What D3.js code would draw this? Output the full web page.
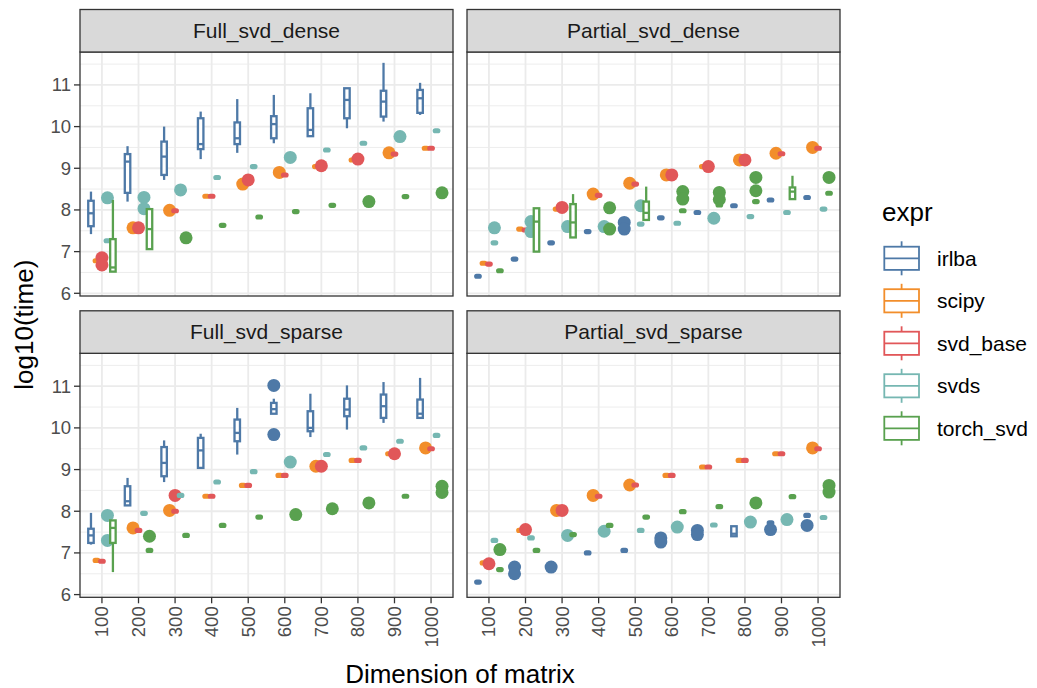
<!DOCTYPE html>
<html>
<head>
<meta charset="utf-8">
<script src="https://cdn.jsdelivr.net/npm/d3@7"></script>
<style>
	body { margin: 0; background: #fff; }
	text { font-family: 'Liberation Sans', Arial, sans-serif; }
</style>
</head>
<body>
<svg id="chart" width="1037" height="688"></svg>
<script>
'use strict';

var dims = ['100', '200', '300', '400', '500', '600', '700', '800', '900', '1000'];
var exprs = ['irlba', 'scipy', 'svd_base', 'svds', 'torch_svd'];
var colors = ['#4E79A7', '#F28E2B', '#E15759', '#76B7B2', '#59A14F'];
var panelNames = ['Full_svd_dense', 'Partial_svd_dense', 'Full_svd_sparse', 'Partial_svd_sparse'];
var yTicks = [6, 7, 8, 9, 10, 11];
var yMinor = [6.5, 7.5, 8.5, 9.5, 10.5, 11.5];

// boxes: [dim, expr, lower whisker, q1, median, q3, upper whisker]
// flat: [dim, expr, value]   (box collapsed to one value)
// outliers: [dim, expr, value]
var fullDenseBoxes = [
	['100', 'irlba', 7.42, 7.61, 7.92, 8.22, 8.44],
	['100', 'torch_svd', 6.52, 6.52, 6.62, 7.30, 8.24],
	['200', 'irlba', 8.20, 8.41, 9.16, 9.34, 9.53],
	['200', 'torch_svd', 7.06, 7.06, 7.54, 8.02, 8.02],
	['300', 'irlba', 8.72, 8.84, 9.28, 9.64, 10.0],
	['400', 'irlba', 9.22, 9.46, 9.58, 10.2, 10.36],
	['500', 'irlba', 9.37, 9.58, 9.72, 10.1, 10.66],
	['600', 'irlba', 9.6, 9.72, 10.06, 10.25, 10.76],
	['700', 'irlba', 9.77, 9.77, 9.92, 10.44, 10.8],
	['800', 'irlba', 9.96, 10.2, 10.64, 10.92, 10.92],
	['900', 'irlba', 10.12, 10.24, 10.6, 10.86, 11.53],
	['1000', 'irlba', 10.28, 10.33, 10.68, 10.88, 11.05]
];
var fullDenseFlat = [
	['100', 'scipy', 6.78], ['100', 'svds', 7.26], ['300', 'svd_base', 7.98],
	['400', 'scipy', 8.33], ['400', 'svd_base', 8.33], ['400', 'svds', 8.78], ['400', 'torch_svd', 7.63],
	['500', 'svds', 9.04], ['500', 'torch_svd', 7.83],
	['600', 'svd_base', 8.84], ['600', 'torch_svd', 7.96],
	['700', 'scipy', 9.04], ['700', 'svds', 9.44], ['700', 'torch_svd', 8.11],
	['800', 'scipy', 9.2], ['800', 'svds', 9.6],
	['900', 'svd_base', 9.34], ['900', 'torch_svd', 8.32],
	['1000', 'scipy', 9.48], ['1000', 'svd_base', 9.48], ['1000', 'svds', 9.9]
];
var fullDenseOutliers = [
	['100', 'svd_base', 6.85], ['100', 'svd_base', 6.68], ['100', 'svds', 8.29],
	['200', 'scipy', 7.57], ['200', 'svd_base', 7.57], ['200', 'svds', 8.30], ['200', 'svds', 8.03],
	['300', 'scipy', 7.99], ['300', 'svds', 8.48], ['300', 'torch_svd', 7.33],
	['500', 'scipy', 8.62], ['500', 'svd_base', 8.72],
	['600', 'scipy', 8.9], ['600', 'svds', 9.26],
	['700', 'svd_base', 9.06],
	['800', 'svd_base', 9.22], ['800', 'torch_svd', 8.2],
	['900', 'scipy', 9.37], ['900', 'svds', 9.76],
	['1000', 'torch_svd', 8.41]
];

var partialDenseBoxes = [
	['200', 'torch_svd', 7.0, 7.0, 7.72, 8.04, 8.04],
	['300', 'torch_svd', 7.34, 7.34, 7.7, 8.14, 8.38],
	['500', 'torch_svd', 7.76, 7.76, 7.93, 8.2, 8.56],
	['900', 'torch_svd', 8.26, 8.26, 8.44, 8.54, 8.82]
];
var partialDenseFlat = [
	['100', 'irlba', 6.41], ['100', 'scipy', 6.72], ['100', 'svd_base', 6.70], ['100', 'svds', 7.21], ['100', 'torch_svd', 6.54],
	['200', 'irlba', 6.82], ['200', 'scipy', 7.54], ['200', 'svd_base', 7.52],
	['300', 'irlba', 7.21], ['300', 'scipy', 8.02],
	['400', 'irlba', 7.48], ['400', 'svd_base', 8.35],
	['500', 'svd_base', 8.62], ['500', 'svds', 7.66],
	['600', 'irlba', 7.81], ['600', 'svds', 7.68], ['600', 'torch_svd', 7.98],
	['700', 'irlba', 7.94], ['700', 'scipy', 9.04], ['700', 'torch_svd', 8.12],
	['800', 'irlba', 8.1], ['800', 'svds', 7.84], ['800', 'torch_svd', 8.2],
	['900', 'irlba', 8.24], ['900', 'svd_base', 9.35], ['900', 'svds', 7.94],
	['1000', 'irlba', 8.3], ['1000', 'svd_base', 9.48], ['1000', 'svds', 8.02], ['1000', 'torch_svd', 8.4]
];
var partialDenseOutliers = [
	['100', 'svds', 7.57],
	['200', 'svds', 7.72], ['200', 'svds', 7.48],
	['300', 'svd_base', 8.06], ['300', 'svds', 7.6],
	['400', 'scipy', 8.38], ['400', 'svds', 7.6], ['400', 'torch_svd', 8.05], ['400', 'torch_svd', 7.54],
	['500', 'irlba', 7.70], ['500', 'irlba', 7.54], ['500', 'scipy', 8.64], ['500', 'svds', 8.1],
	['600', 'scipy', 8.84], ['600', 'svd_base', 8.84], ['600', 'torch_svd', 8.44], ['600', 'torch_svd', 8.26],
	['700', 'svd_base', 9.04], ['700', 'svds', 7.8], ['700', 'torch_svd', 8.42], ['700', 'torch_svd', 8.25],
	['800', 'scipy', 9.2], ['800', 'svd_base', 9.2], ['800', 'torch_svd', 8.78], ['800', 'torch_svd', 8.46],
	['900', 'scipy', 9.36],
	['1000', 'scipy', 9.5], ['1000', 'torch_svd', 8.78]
];

var fullSparseBoxes = [
	['100', 'irlba', 7.2, 7.24, 7.42, 7.58, 7.96],
	['100', 'torch_svd', 6.54, 7.24, 7.6, 7.78, 7.78],
	['200', 'irlba', 8.14, 8.14, 8.24, 8.6, 8.8],
	['300', 'irlba', 8.7, 8.84, 9.16, 9.54, 9.7],
	['400', 'irlba', 9.04, 9.04, 9.46, 9.76, 9.86],
	['500', 'irlba', 9.36, 9.68, 9.88, 10.2, 10.48],
	['600', 'irlba', 10.34, 10.34, 10.45, 10.6, 10.7],
	['700', 'irlba', 9.78, 9.92, 10.0, 10.4, 10.82],
	['800', 'irlba', 9.96, 10.28, 10.44, 10.7, 11.02],
	['900', 'irlba', 10.12, 10.24, 10.52, 10.8, 11.1],
	['1000', 'irlba', 10.24, 10.24, 10.34, 10.68, 11.2]
];
var fullSparseFlat = [
	['100', 'scipy', 6.82], ['100', 'svd_base', 6.8],
	['200', 'svd_base', 7.54], ['200', 'svds', 7.95], ['200', 'torch_svd', 7.06],
	['300', 'svd_base', 8.0], ['300', 'svds', 8.38], ['300', 'torch_svd', 7.42],
	['400', 'scipy', 8.36], ['400', 'svd_base', 8.36], ['400', 'svds', 8.7], ['400', 'torch_svd', 7.66],
	['500', 'scipy', 8.62], ['500', 'svd_base', 8.62], ['500', 'svds', 8.95], ['500', 'torch_svd', 7.86],
	['600', 'scipy', 8.86], ['600', 'svd_base', 8.86],
	['700', 'svds', 9.36],
	['800', 'scipy', 9.22], ['800', 'svd_base', 9.22], ['800', 'svds', 9.52],
	['900', 'scipy', 9.38], ['900', 'svds', 9.68], ['900', 'torch_svd', 8.36],
	['1000', 'svd_base', 9.5], ['1000', 'svds', 9.82]
];
var fullSparseOutliers = [
	['100', 'svds', 7.9], ['100', 'svds', 7.3],
	['200', 'scipy', 7.6], ['200', 'torch_svd', 7.4],
	['300', 'scipy', 8.02], ['300', 'svd_base', 8.38],
	['600', 'irlba', 11.02], ['600', 'irlba', 9.84], ['600', 'svds', 9.18], ['600', 'torch_svd', 7.92],
	['700', 'scipy', 9.08], ['700', 'svd_base', 9.08], ['700', 'torch_svd', 8.06],
	['800', 'torch_svd', 8.2],
	['900', 'svd_base', 9.38],
	['1000', 'scipy', 9.52], ['1000', 'torch_svd', 8.6], ['1000', 'torch_svd', 8.45]
];

var partialSparseBoxes = [
	['800', 'irlba', 7.4, 7.4, 7.46, 7.64, 7.64]
];
var partialSparseFlat = [
	['100', 'irlba', 6.3], ['100', 'scipy', 6.76], ['100', 'svds', 7.3], ['100', 'torch_svd', 6.6],
	['200', 'scipy', 7.54], ['200', 'svds', 7.36], ['200', 'torch_svd', 7.06],
	['300', 'torch_svd', 7.44],
	['400', 'irlba', 7.0], ['400', 'svd_base', 8.36], ['400', 'torch_svd', 7.66],
	['500', 'irlba', 7.06], ['500', 'svd_base', 8.63], ['500', 'svds', 7.54], ['500', 'torch_svd', 7.86],
	['600', 'scipy', 8.86], ['600', 'svd_base', 8.86], ['600', 'torch_svd', 7.99],
	['700', 'scipy', 9.06], ['700', 'svd_base', 9.06], ['700', 'svds', 7.67], ['700', 'torch_svd', 8.11],
	['800', 'scipy', 9.22], ['800', 'svd_base', 9.22],
	['900', 'irlba', 7.72], ['900', 'scipy', 9.38], ['900', 'svd_base', 9.38], ['900', 'torch_svd', 8.35],
	['1000', 'irlba', 7.9], ['1000', 'svd_base', 9.5], ['1000', 'svds', 7.85]
];
var partialSparseOutliers = [
	['100', 'svd_base', 6.74], ['100', 'torch_svd', 7.08],
	['200', 'irlba', 6.66], ['200', 'irlba', 6.5], ['200', 'svd_base', 7.56],
	['300', 'irlba', 6.66], ['300', 'scipy', 8.02], ['300', 'svd_base', 8.02], ['300', 'svds', 7.42],
	['400', 'scipy', 8.38], ['400', 'svds', 7.52],
	['500', 'scipy', 8.63],
	['600', 'irlba', 7.36], ['600', 'irlba', 7.26], ['600', 'svds', 7.62],
	['700', 'irlba', 7.54], ['700', 'irlba', 7.44],
	['800', 'svds', 7.74], ['800', 'torch_svd', 8.2],
	['900', 'irlba', 7.56], ['900', 'svds', 7.8],
	['1000', 'irlba', 7.66], ['1000', 'scipy', 9.52], ['1000', 'torch_svd', 8.62], ['1000', 'torch_svd', 8.46]
];

var panelData = [
	{boxes: fullDenseBoxes, flat: fullDenseFlat, outliers: fullDenseOutliers},
	{boxes: partialDenseBoxes, flat: partialDenseFlat, outliers: partialDenseOutliers},
	{boxes: fullSparseBoxes, flat: fullSparseFlat, outliers: fullSparseOutliers},
	{boxes: partialSparseBoxes, flat: partialSparseFlat, outliers: partialSparseOutliers}
];

var DARK = '#333333';
var GRID = '#ebebeb';
var LW = 2.3;
var colLeft = [80, 467];
var panelW = 373;
var rowTop = [52, 353.3];
var panelH = 244;
var stripH = 42.5;

var svg = d3.select('#chart');
var color = d3.scaleOrdinal().domain(exprs).range(colors);

var xScales = colLeft.map(function(l) {
	return d3.scalePoint().domain(dims).range([l, l + panelW]).padding(0.6);
});
var yScales = rowTop.map(function(t) {
	return d3.scaleLinear().domain([5.935, 11.79]).range([t + panelH, t]);
});

var step = xScales[0].step();
var slot = step * 0.75 / exprs.length;
var dodge = d3.scaleBand().domain(exprs).range([-step * 0.375, step * 0.375]);

panelNames.forEach(function(name, p) {
	var col = p % 2, row = Math.floor(p / 2);
	var x = xScales[col], y = yScales[row];
	var left = colLeft[col], top = rowTop[row];
	var g = svg.append('g');

	g.append('rect').attr('x', left).attr('y', top).attr('width', panelW).attr('height', panelH).style('fill', '#fff');

	g.selectAll('.minor').data(yMinor).enter().append('line')
		.attr('x1', left).attr('x2', left + panelW)
		.attr('y1', function(d) { return y(d); }).attr('y2', function(d) { return y(d); })
		.style('stroke', GRID).style('stroke-width', 0.9);
	g.selectAll('.hmajor').data(yTicks).enter().append('line')
		.attr('x1', left).attr('x2', left + panelW)
		.attr('y1', function(d) { return y(d); }).attr('y2', function(d) { return y(d); })
		.style('stroke', GRID).style('stroke-width', 1.8);
	g.selectAll('.vmajor').data(dims).enter().append('line')
		.attr('y1', top).attr('y2', top + panelH)
		.attr('x1', function(d) { return x(d); }).attr('x2', function(d) { return x(d); })
		.style('stroke', GRID).style('stroke-width', 1.8);

	var data = panelData[p];
	dims.forEach(function(dim) {
		exprs.forEach(function(ex) {
			var cx = x(dim) + dodge(ex) + slot / 2;
			var c = color(ex);
			data.outliers.filter(function(o) { return o[0] === dim && o[1] === ex; }).forEach(function(o) {
				g.append('circle').attr('cx', cx).attr('cy', y(o[2])).attr('r', 6.5).style('fill', c);
			});
			data.boxes.filter(function(b) { return b[0] === dim && b[1] === ex; }).forEach(function(b) {
				g.append('line').attr('x1', cx).attr('x2', cx).attr('y1', y(b[2])).attr('y2', y(b[3]))
					.style('stroke', c).style('stroke-width', LW);
				g.append('line').attr('x1', cx).attr('x2', cx).attr('y1', y(b[5])).attr('y2', y(b[6]))
					.style('stroke', c).style('stroke-width', LW);
				g.append('rect').attr('x', cx - slot / 2).attr('width', slot)
					.attr('y', y(b[5])).attr('height', Math.max(1, y(b[3]) - y(b[5])))
					.style('fill', '#fff').style('stroke', c).style('stroke-width', LW);
				g.append('line').attr('x1', cx - slot / 2).attr('x2', cx + slot / 2)
					.attr('y1', y(b[4])).attr('y2', y(b[4]))
					.style('stroke', c).style('stroke-width', LW);
			});
			data.flat.filter(function(f) { return f[0] === dim && f[1] === ex; }).forEach(function(f) {
				g.append('rect').attr('x', cx - slot / 2).attr('width', slot)
					.attr('y', y(f[2]) - 1.4).attr('height', 2.8).attr('rx', 1.4)
					.style('fill', c).style('stroke', c).style('stroke-width', LW)
					.style('stroke-linejoin', 'round');
			});
		});
	});

	g.append('rect').attr('x', left).attr('y', top).attr('width', panelW).attr('height', panelH)
		.style('fill', 'none').style('stroke', DARK).style('stroke-width', 1.3);

	// strip
	g.append('rect').attr('x', left).attr('y', top - stripH).attr('width', panelW).attr('height', stripH)
		.style('fill', '#d9d9d9').style('stroke', DARK).style('stroke-width', 1.3);
	g.append('text').attr('x', left + panelW / 2).attr('y', top - stripH / 2).attr('dy', '0.35em')
		.attr('text-anchor', 'middle').style('font-size', '21px').style('fill', '#1a1a1a').text(name);

	// y axis on left column
	if (col === 0) {
		yTicks.forEach(function(t) {
			g.append('line').attr('x1', left - 6).attr('x2', left).attr('y1', y(t)).attr('y2', y(t))
				.style('stroke', DARK).style('stroke-width', 1.3);
			g.append('text').attr('x', left - 9).attr('y', y(t)).attr('dy', '0.35em')
				.attr('text-anchor', 'end').style('font-size', '18.5px').style('fill', '#4d4d4d').text(t);
		});
	}
	// x axis on bottom row
	if (row === 1) {
		dims.forEach(function(d) {
			g.append('line').attr('x1', x(d)).attr('x2', x(d)).attr('y1', top + panelH).attr('y2', top + panelH + 6)
				.style('stroke', DARK).style('stroke-width', 1.3);
			g.append('text').attr('transform', 'translate(' + x(d) + ',' + (top + panelH + 9) + ') rotate(-90)')
				.attr('dy', '0.35em').attr('text-anchor', 'end')
				.style('font-size', '18.5px').style('fill', '#4d4d4d').text(d);
		});
	}
});

// axis titles
svg.append('text').attr('x', (colLeft[0] + colLeft[1] + panelW) / 2).attr('y', 683)
	.attr('text-anchor', 'middle').style('font-size', '26px').style('fill', '#000').text('Dimension of matrix');
svg.append('text').attr('transform', 'translate(33,' + (rowTop[0] + rowTop[1] + panelH) / 2 + ') rotate(-90)')
	.attr('text-anchor', 'middle').style('font-size', '26px').style('fill', '#000').text('log10(time)');

// legend
var legend = svg.append('g');
legend.append('text').attr('x', 882).attr('y', 221).style('font-size', '26px').style('fill', '#000').text('expr');
exprs.forEach(function(ex, i) {
	var cy = 258.3 + i * 42.5;
	var c = color(ex);
	legend.append('line').attr('x1', 901.6).attr('x2', 901.6).attr('y1', cy - 17).attr('y2', cy + 17)
		.style('stroke', c).style('stroke-width', 1.8);
	legend.append('rect').attr('x', 884.3).attr('y', cy - 11.6).attr('width', 34.7).attr('height', 23.2)
		.style('fill', '#fff').style('stroke', c).style('stroke-width', 1.8);
	legend.append('line').attr('x1', 884.3).attr('x2', 919).attr('y1', cy).attr('y2', cy)
		.style('stroke', c).style('stroke-width', 1.8);
	legend.append('text').attr('x', 937).attr('y', cy).attr('dy', '0.35em')
		.style('font-size', '21px').style('fill', '#000').text(ex);
});
</script>
</body>
</html>
